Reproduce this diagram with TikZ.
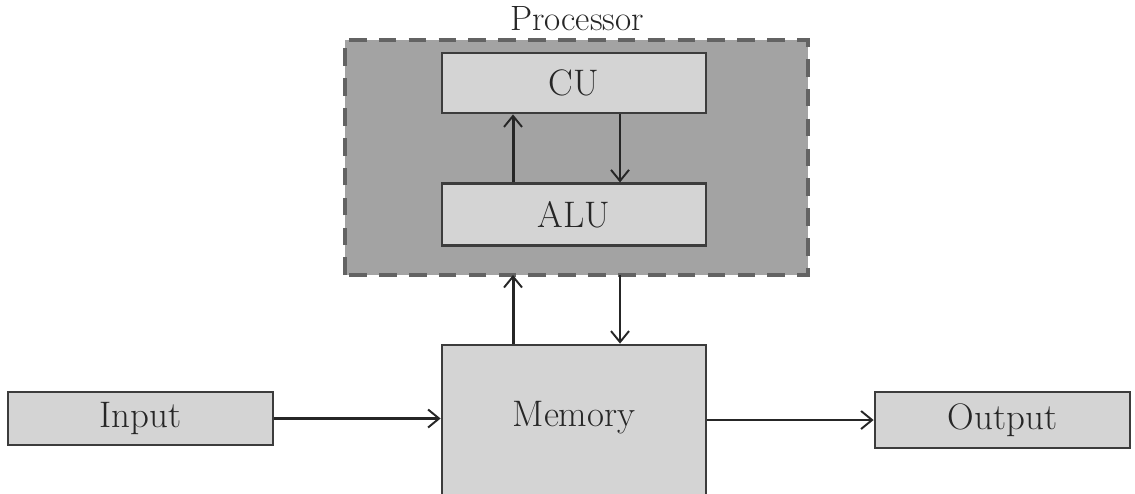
\documentclass[tikz,border=0pt]{standalone}
\usepackage{tikz}
\usetikzlibrary{arrows.meta,positioning}
\definecolor{boxgray}{HTML}{D4D4D4}
\definecolor{procgray}{HTML}{A3A3A3}
\definecolor{edgegray}{HTML}{3C3C3C}
\definecolor{labelgray}{HTML}{262626}

\begin{document}
\begin{tikzpicture}[
  >={Straight Barb[length=2.2mm,width=3.6mm,line width=1.1pt]},
  unitbox/.style={rectangle, draw=edgegray, fill=boxgray, line width=1.6pt, text=labelgray, font=\fontsize{21}{24}\selectfont, inner sep=0pt},
  procframe/.style={draw=edgegray!80, fill=procgray, line width=2.2pt, dash pattern=on 10pt off 7pt},
  busup/.style={->, line width=1.7pt, draw=black!85},
  busdown/.style={->, line width=1.2pt, draw=black!85}
]
  \useasboundingbox (0,0) rectangle (22.7,9.86);

  % Processor frame with its two units
  \draw[procframe] (6.9,4.36) rectangle (16.16,9.06);
  \node[font=\fontsize{20}{24}\selectfont, text=labelgray] (proclabel) at (11.54,9.48) {Processor};
  \coordinate (procbot) at (11.54,4.36);
  \node[unitbox, minimum width=5.28cm, minimum height=1.2cm] (cu) at (11.48,8.2) {CU};
  \node[unitbox, minimum width=5.28cm, minimum height=1.24cm, below=1.36cm of cu] (alu) {ALU};

  % Memory and I/O
  \node[unitbox, minimum width=5.28cm, minimum height=3.2cm] (memory) at (11.48,1.36) {};
  \node[font=\fontsize{21}{24}\selectfont, text=labelgray] (memlabel) at (11.48,1.5) {Memory};
  \node[unitbox, minimum width=5.3cm, minimum height=1.06cm] (input) at (2.81,1.49) {Input};
  \node[unitbox, minimum width=5.1cm, minimum height=1.12cm] (output) at (20.05,1.46) {Output};

  % Arrows inside the processor
  \draw[busup] (alu.north -| 10.26,0) -- (cu.south -| 10.26,0);
  \draw[busdown] (cu.south -| 12.4,0) -- (alu.north -| 12.4,0);

  % Memory <-> processor
  \draw[busup] (memory.north -| 10.26,0) -- (procbot -| 10.26,0);
  \draw[busdown] (procbot -| 12.4,0) -- (memory.north -| 12.4,0);

  % Data flow
  \draw[busdown] (input.east) -- (input.east -| memory.west);
  \draw[busdown] (output.west -| memory.east) -- (output.west);
\end{tikzpicture}
\end{document}
